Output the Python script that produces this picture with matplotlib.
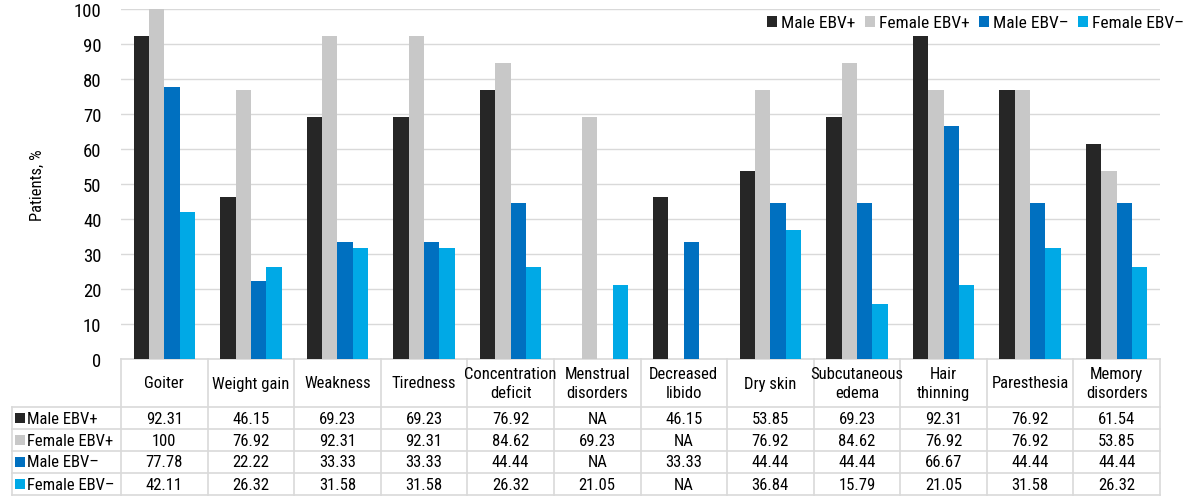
import matplotlib.pyplot as plt
import numpy as np
from matplotlib import font_manager

names = {f.name for f in font_manager.fontManager.ttflist}
fams = [f for f in ['Roboto Condensed', 'Liberation Sans Narrow', 'Roboto'] if f in names]
plt.rcParams['font.family'] = fams + ['DejaVu Sans']

symptoms = ['Goiter', 'Weight gain', 'Weakness', 'Tiredness', 'Concentration\ndeficit',
            'Menstrual\ndisorders', 'Decreased\nlibido', 'Dry skin', 'Subcutaneous\nedema',
            'Hair\nthinning', 'Paresthesia', 'Memory\ndisorders']
series = ['Male EBV+', 'Female EBV+', 'Male EBV–', 'Female EBV–']

male_pos = [92.31, 46.15, 69.23, 69.23, 76.92, None, 46.15, 53.85, 69.23, 92.31, 76.92, 61.54]
female_pos = [100, 76.92, 92.31, 92.31, 84.62, 69.23, None, 76.92, 84.62, 76.92, 76.92, 53.85]
male_neg = [77.78, 22.22, 33.33, 33.33, 44.44, None, 33.33, 44.44, 44.44, 66.67, 44.44, 44.44]
female_neg = [42.11, 26.32, 31.58, 31.58, 26.32, 21.05, None, 36.84, 15.79, 21.05, 31.58, 26.32]

colors = ['#262626', '#c8c8c8', '#0070c0', '#00a9e6']
data = [male_pos, female_pos, male_neg, female_neg]

W, H = 1198, 502
fig = plt.figure(figsize=(W / 100, H / 100), dpi=100)
L, R, T, B = 121, 1160, 10, 360
ax = fig.add_axes([L / W, 1 - B / H, (R - L) / W, (B - T) / H])

n = len(symptoms)
x = np.arange(n)
bw = 0.177
for k, (vals, c) in enumerate(zip(data, colors)):
    v = [0 if a is None else a for a in vals]
    ax.bar(x + (k - 1.5) * bw, v, bw, color=c, label=series[k], zorder=3)

ax.set_xlim(-0.5, n - 0.5)
ax.set_ylim(0, 100)
ax.set_yticks(range(0, 101, 10))
ax.tick_params(axis='y', length=0, labelsize=13.5, pad=14)
ax.set_xticks([])
ax.grid(axis='y', color='#d9d9d9', linewidth=1, zorder=0)
for s in ax.spines.values():
    s.set_visible(False)
ax.set_ylabel('Patients, %', fontsize=12)
ax.yaxis.set_label_coords((45 - L) / (R - L), 0.5)

ax.legend(loc='upper right', bbox_to_anchor=(1.033, 1.012), ncol=4, frameon=False,
          fontsize=12.5, handlelength=0.6, handleheight=0.6, handletextpad=0.2,
          columnspacing=0.55, borderaxespad=0.2)

# data table below the axes, drawn in axes fraction coordinates
tr = ax.transAxes
ah = B - T
aw = R - L
def ty(px):
    return (B - px) / ah

def tx(px):
    return (px - L) / aw

head_bot = 408
row_h = 22
rows_top = [head_bot + i * row_h for i in range(4)]
tab_bot = head_bot + 4 * row_h
lc = '#d9d9d9'

# horizontal lines
ax.plot([0, 1], [ty(B), ty(B)], color=lc, lw=1.2, transform=tr, clip_on=False)
for yy in rows_top + [tab_bot]:
    ax.plot([tx(12), 1], [ty(yy), ty(yy)], color=lc, lw=1.2, transform=tr, clip_on=False)
# vertical lines
for i in range(n + 1):
    ax.plot([i / n, i / n], [ty(B), ty(tab_bot)], color=lc, lw=1.2, transform=tr, clip_on=False)
ax.plot([tx(12), tx(12)], [ty(head_bot), ty(tab_bot)], color=lc, lw=1.2, transform=tr, clip_on=False)

for i, name in enumerate(symptoms):
    ax.text((i + 0.5) / n, ty((B + head_bot) / 2), name, transform=tr, ha='center', va='center',
            fontsize=12, linespacing=1.3)

for r, (vals, c) in enumerate(zip(data, colors)):
    yc = ty(rows_top[r] + row_h / 2)
    ax.plot([tx(20)], [yc], marker='s', ms=7, mew=0, color=c, transform=tr, clip_on=False)
    ax.text(tx(27), yc, series[r], transform=tr, ha='left', va='center', fontsize=12)
    for i, v in enumerate(vals):
        s = 'NA' if v is None else ('%g' % v if v == 100 else '%.2f' % v)
        ax.text((i + 0.5) / n, yc, s, transform=tr, ha='center', va='center', fontsize=12)

fig.savefig('out.png', dpi=100)
